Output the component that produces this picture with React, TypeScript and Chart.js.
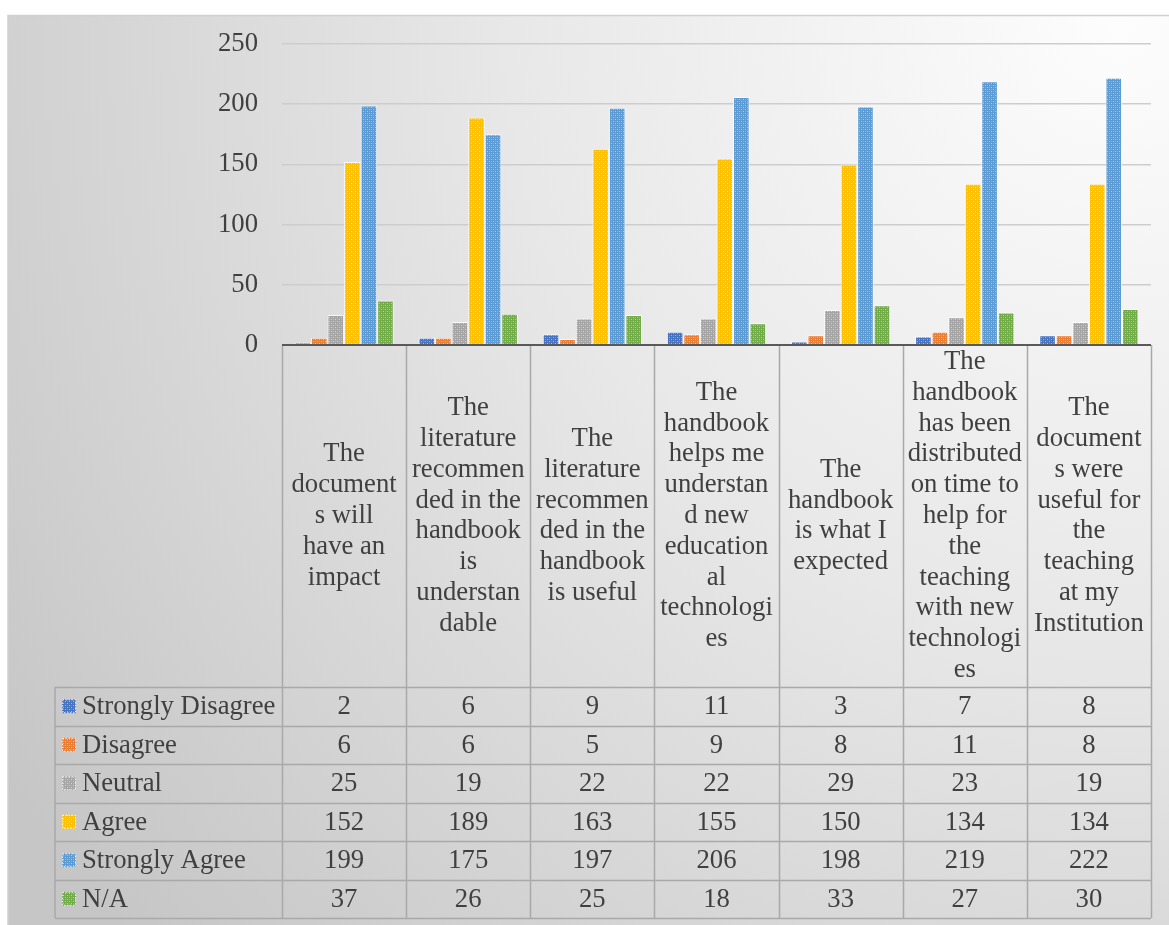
import React, { useEffect, useRef } from 'react';
import { Chart, registerables } from 'chart.js';
Chart.register(...registerables);

const categories: string[][] = [
  ['The', 'document', 's will', 'have an', 'impact'],
  ['The', 'literature', 'recommen', 'ded in the', 'handbook', 'is', 'understan', 'dable'],
  ['The', 'literature', 'recommen', 'ded in the', 'handbook', 'is useful'],
  ['The', 'handbook', 'helps me', 'understan', 'd new', 'education', 'al', 'technologi', 'es'],
  ['The', 'handbook', 'is what I', 'expected'],
  ['The', 'handbook', 'has been', 'distributed', 'on time to', 'help for', 'the', 'teaching', 'with new', 'technologi', 'es'],
  ['The', 'document', 's were', 'useful for', 'the', 'teaching', 'at my', 'Institution'],
];

const seriesNames = ['Strongly Disagree', 'Disagree', 'Neutral', 'Agree', 'Strongly Agree', 'N/A'];
const stronglyDisagree = [2, 6, 9, 11, 3, 7, 8];
const disagree = [6, 6, 5, 9, 8, 11, 8];
const neutral = [25, 19, 22, 22, 29, 23, 19];
const agree = [152, 189, 163, 155, 150, 134, 134];
const stronglyAgree = [199, 175, 197, 206, 198, 219, 222];
const notApplicable = [37, 26, 25, 18, 33, 27, 30];
const seriesValues = [stronglyDisagree, disagree, neutral, agree, stronglyAgree, notApplicable];
const seriesColors = ['#4472C4', '#ED7D31', '#A5A5A5', '#FFC000', '#5B9BD5', '#70AD47'];
const yMin = 0;
const yMax = 250;
const yStep = 50;

const FONT = '"Liberation Serif", "Times New Roman", serif';
const FONT_SIZE = 26.7;
const TEXT_COLOR = '#404040';

function makePattern(ctx: CanvasRenderingContext2D, color: string): CanvasPattern | string {
  const tile = document.createElement('canvas');
  tile.width = 4;
  tile.height = 4;
  const g = tile.getContext('2d');
  if (!g) return color;
  g.fillStyle = color;
  g.fillRect(0, 0, 4, 4);
  g.fillStyle = 'rgba(255,255,255,0.5)';
  g.fillRect(1, 1, 1, 1);
  g.fillRect(3, 3, 1, 1);
  g.fillStyle = 'rgba(255,255,255,0.2)';
  g.fillRect(3, 1, 1, 1);
  g.fillRect(1, 3, 1, 1);
  return ctx.createPattern(tile, 'repeat') || color;
}

export default function App() {
  const ref = useRef<HTMLCanvasElement | null>(null);

  useEffect(() => {
    const canvas = ref.current;
    if (!canvas) return;
    const ctx0 = canvas.getContext('2d') as CanvasRenderingContext2D;
    const patterns = seriesColors.map((c) => makePattern(ctx0, c));

    const bgPlugin = {
      id: 'bgPlugin',
      beforeDraw(chart: any) {
        const { ctx, width, height } = chart;
        ctx.save();
        const grad = ctx.createRadialGradient(1120, 20, 0, 1120, 20, 1350);
        grad.addColorStop(0, '#fdfdfd');
        grad.addColorStop(0.45, '#e8e8e8');
        grad.addColorStop(1, '#c6c6c6');
        ctx.fillStyle = grad;
        ctx.fillRect(8, 15, width - 8, height - 15);
        ctx.strokeStyle = '#d0d0d0';
        ctx.lineWidth = 1.5;
        ctx.beginPath();
        ctx.moveTo(8, height);
        ctx.lineTo(8, 15.5);
        ctx.lineTo(width, 15.5);
        ctx.stroke();
        ctx.restore();
      },
    };

    const tablePlugin = {
      id: 'tablePlugin',
      afterDraw(chart: any) {
        const { ctx, chartArea } = chart;
        const xs = chart.scales.x;
        const left = chartArea.left;
        const right = chartArea.right;
        const base = chartArea.bottom;
        const n = categories.length;
        const colW = (right - left) / n;
        const headerBottom = base + 342;
        const rowH = 38.5;
        const tableBottom = headerBottom + rowH * seriesNames.length;
        const labelLeft = 55;

        ctx.save();
        ctx.strokeStyle = '#a9a9a9';
        ctx.lineWidth = 1.5;
        ctx.beginPath();
        for (let i = 0; i <= n; i++) {
          const x = Math.round(left + i * colW) + 0.5;
          ctx.moveTo(x, base);
          ctx.lineTo(x, tableBottom);
        }
        ctx.moveTo(labelLeft, headerBottom);
        ctx.lineTo(labelLeft, tableBottom);
        for (let r = 0; r <= seriesNames.length; r++) {
          const y = Math.round(headerBottom + r * rowH) + 0.5;
          ctx.moveTo(labelLeft, y);
          ctx.lineTo(right, y);
        }
        ctx.stroke();

        ctx.strokeStyle = '#595959';
        ctx.lineWidth = 2;
        ctx.beginPath();
        ctx.moveTo(left, base);
        ctx.lineTo(right, base);
        ctx.stroke();

        ctx.fillStyle = TEXT_COLOR;
        ctx.font = `${FONT_SIZE}px ${FONT}`;
        ctx.textAlign = 'center';
        ctx.textBaseline = 'middle';
        const lineH = 30.8;
        const midY = (base + headerBottom) / 2;
        categories.forEach((lines, i) => {
          const cx = xs.getPixelForValue(i);
          const startY = midY - ((lines.length - 1) * lineH) / 2;
          lines.forEach((ln, k) => ctx.fillText(ln, cx, startY + k * lineH));
        });

        seriesNames.forEach((name, r) => {
          const cy = headerBottom + r * rowH + rowH / 2;
          ctx.fillStyle = patterns[r];
          ctx.fillRect(62, cy - 7, 14, 14);
          ctx.strokeStyle = 'rgba(255,255,255,0.9)';
          ctx.lineWidth = 1;
          ctx.setLineDash([1.5, 1.5]);
          ctx.strokeRect(62.5, cy - 6.5, 13, 13);
          ctx.setLineDash([]);
          ctx.fillStyle = TEXT_COLOR;
          ctx.textAlign = 'left';
          ctx.fillText(name, 82, cy + 1);
          ctx.textAlign = 'center';
          seriesValues[r].forEach((v, i) => {
            ctx.fillText(String(v), xs.getPixelForValue(i), cy + 1);
          });
        });
        ctx.restore();
      },
    };

    const chart = new Chart(canvas, {
      type: 'bar',
      data: {
        labels: categories.map((c) => c.join(' ')),
        datasets: seriesNames.map((name, i) => ({
          label: name,
          data: seriesValues[i],
          backgroundColor: patterns[i] as any,
          borderColor: 'rgba(255,255,255,0.75)',
          borderWidth: 1,
          categoryPercentage: 0.8,
          barPercentage: 1.0,
        })),
      },
      options: {
        responsive: false,
        animation: false,
        layout: { padding: { left: 0, right: 18, top: 44, bottom: 580 } },
        plugins: {
          legend: { display: false },
          tooltip: { enabled: false },
          title: { display: false },
        },
        scales: {
          x: { display: false },
          y: {
            min: yMin,
            max: yMax,
            ticks: {
              stepSize: yStep,
              padding: 24,
              color: TEXT_COLOR,
              font: { family: FONT, size: FONT_SIZE },
            },
            grid: {
              drawTicks: false,
              color: (c: any) => (c.tick && c.tick.value === 0 ? 'rgba(0,0,0,0)' : '#cdcdcd'),
              lineWidth: 1.5,
            },
            border: { display: false },
            afterFit: (scale: any) => {
              scale.width = 282;
            },
          },
        },
      },
      plugins: [bgPlugin, tablePlugin],
    });

    return () => chart.destroy();
  }, []);

  return (
    <div style={{ position: 'absolute', left: 0, top: 0, width: 1169, height: 925 }}>
      <canvas ref={ref} width={1169} height={925} style={{ display: 'block' }} />
    </div>
  );
}
